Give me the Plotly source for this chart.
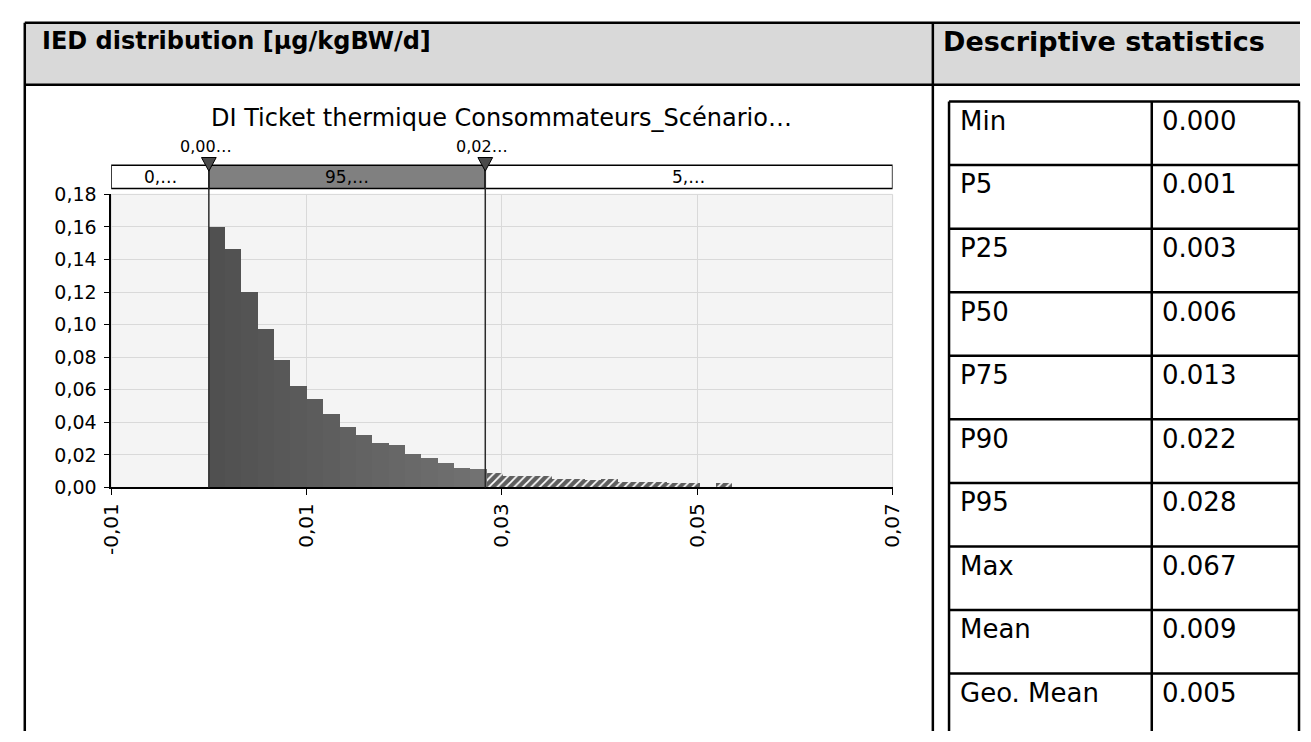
import plotly.graph_objects as go

# ---- data ----
bin_start = 0.0
bin_width = 0.001675
frequencies = [0.160, 0.146, 0.120, 0.097, 0.078, 0.062, 0.054, 0.045, 0.037, 0.032,
               0.027, 0.026, 0.020, 0.018, 0.015, 0.012, 0.011, 0.0089, 0.0070, 0.0070,
               0.0070, 0.0052, 0.0052, 0.0042, 0.0052, 0.0030, 0.0030, 0.0032, 0.0024, 0.0024,
               0.0, 0.0022, 0.0, 0.0, 0.0, 0.0, 0.0, 0.0, 0.0, 0.0]

delimiters = [0.0, 0.0283]
delimiter_labels = ["0,00…", "0,02…"]
region_labels = ["0,…", "95,…", "5,…"]

x_ticks = [-0.01, 0.01, 0.03, 0.05, 0.07]
x_tick_labels = ["-0,01", "0,01", "0,03", "0,05", "0,07"]
y_ticks = [0.0, 0.02, 0.04, 0.06, 0.08, 0.10, 0.12, 0.14, 0.16, 0.18]
y_tick_labels = ["0,00", "0,02", "0,04", "0,06", "0,08", "0,10", "0,12", "0,14", "0,16", "0,18"]

chart_title = "DI Ticket thermique Consommateurs_Scénario…"
left_header = "IED distribution [µg/kgBW/d]"
right_header = "Descriptive statistics"

stat_names = ["Min", "P5", "P25", "P50", "P75", "P90", "P95", "Max", "Mean", "Geo. Mean"]
stat_values = ["0.000", "0.001", "0.003", "0.006", "0.013", "0.022", "0.028", "0.067", "0.009", "0.005"]

# ---- page geometry (pixels) ----
W, H = 1311, 742
FONT = "DejaVu Sans"


def px(x):
    return x / W


def py(y):
    return 1 - y / H


x_range = [-0.01, 0.07]
plot_left, plot_right = 100, 896
plot_top, plot_bottom = 189, 491
band_top, band_bottom = 159, 183

centers = [bin_start + (i + 0.5) * bin_width for i in range(len(frequencies))]
inside = [c < delimiters[1] for c in centers]

n_in = sum(inside)
shades = []
for i in range(n_in):
    v = int(0x50 + (0x72 - 0x50) * i / max(n_in - 1, 1))
    shades.append("#%02x%02x%02x" % (v, v, v))

fig = go.Figure()

fig.add_trace(go.Bar(
    x=[c for c, k in zip(centers, inside) if k],
    y=[f for f, k in zip(frequencies, inside) if k],
    width=bin_width,
    marker=dict(color=shades, line=dict(width=0)),
    hoverinfo="skip",
))
fig.add_trace(go.Bar(
    x=[c for c, k in zip(centers, inside) if not k],
    y=[f for f, k in zip(frequencies, inside) if not k],
    width=bin_width,
    marker=dict(color="#5e5e5e", line=dict(width=0),
                pattern=dict(shape="/", fgcolor="#ffffff", bgcolor="#5e5e5e",
                             size=6, solidity=0.3, fillmode="replace")),
    hoverinfo="skip",
))

shapes = []
annotations = []

# header band and frame
shapes.append(dict(type="rect", xref="paper", yref="paper", x0=px(12), x1=1, y0=py(76), y1=py(12),
                   fillcolor="#d9d9d9", line=dict(width=0), layer="below"))
for (x0, y0, x1, y1) in [(12, 12, W, 12), (12, 76, W, 76), (12, 12, 12, H), (937, 12, 937, H)]:
    shapes.append(dict(type="line", xref="paper", yref="paper", x0=px(x0), x1=px(x1),
                       y0=py(y0), y1=py(y1), line=dict(color="black", width=2.5)))

annotations.append(dict(text="<b>%s</b>" % left_header, xref="paper", yref="paper", x=px(28), y=py(31),
                        xanchor="left", yanchor="middle", showarrow=False,
                        font=dict(family=FONT, size=24, color="black")))
annotations.append(dict(text="<b>%s</b>" % right_header, xref="paper", yref="paper", x=px(945), y=py(31),
                        xanchor="left", yanchor="middle", showarrow=False,
                        font=dict(family=FONT, size=27, color="black")))

# statistics table
t_left, t_mid, t_right, t_top, row_h = 953.5, 1160, 1310, 93.3, 65.5
for i, (name, val) in enumerate(zip(stat_names, stat_values)):
    top = t_top + i * row_h
    shapes.append(dict(type="line", xref="paper", yref="paper", x0=px(t_left), x1=px(t_right),
                       y0=py(top), y1=py(top), line=dict(color="black", width=2.5)))
    annotations.append(dict(text=name, xref="paper", yref="paper", x=px(963), y=py(top + 20),
                            xanchor="left", yanchor="middle", showarrow=False,
                            font=dict(family=FONT, size=26, color="black")))
    annotations.append(dict(text=val, xref="paper", yref="paper", x=px(1168), y=py(top + 20),
                            xanchor="left", yanchor="middle", showarrow=False,
                            font=dict(family=FONT, size=26, color="black")))
for xv in (t_left, t_mid, t_right):
    shapes.append(dict(type="line", xref="paper", yref="paper", x0=px(xv), x1=px(xv),
                       y0=py(t_top), y1=0, line=dict(color="black", width=2.5)))

# light border around plot area
shapes.append(dict(type="rect", xref="x domain", yref="y domain", x0=0, x1=1, y0=0, y1=1,
                   line=dict(color="#d6d6d6", width=1), layer="below"))

# delimiter band
seg_edges = [x_range[0]] + delimiters + [x_range[1]]
seg_fill = ["white", "#808080", "white"]
for i in range(3):
    shapes.append(dict(type="rect", xref="x", yref="paper", x0=seg_edges[i], x1=seg_edges[i + 1],
                       y0=py(band_bottom), y1=py(band_top), fillcolor=seg_fill[i],
                       line=dict(color="black", width=1.5)))
    annotations.append(dict(text=region_labels[i], xref="x", yref="paper",
                            x=(seg_edges[i] + seg_edges[i + 1]) / 2, y=py((band_top + band_bottom) / 2),
                            xanchor="center", yanchor="middle", showarrow=False,
                            font=dict(family=FONT, size=17, color="black")))

half = 7.5 / ((plot_right - plot_left) / (x_range[1] - x_range[0]))
for d, lab in zip(delimiters, delimiter_labels):
    shapes.append(dict(type="line", xref="x", yref="paper", x0=d, x1=d, y0=py(plot_bottom), y1=py(band_top),
                       line=dict(color="#2b2b2b", width=1.5)))
    shapes.append(dict(type="path", xref="x", yref="paper",
                       path="M %f,%f L %f,%f L %f,%f Z" % (d - half, py(151), d + half, py(151), d, py(165)),
                       fillcolor="#4a4a4a", line=dict(color="black", width=1)))
    annotations.append(dict(text=lab, xref="x", yref="paper", x=d - 0.0003, y=py(140),
                            xanchor="center", yanchor="middle", showarrow=False,
                            font=dict(family=FONT, size=16, color="black")))

annotations.append(dict(text=chart_title, xref="paper", yref="paper", x=px((plot_left + plot_right) / 2),
                        y=py(110), xanchor="center", yanchor="middle", showarrow=False,
                        font=dict(family=FONT, size=24, color="black")))

fig.update_layout(
    width=W, height=H, autosize=False,
    margin=dict(l=0, r=0, t=0, b=0),
    paper_bgcolor="white", plot_bgcolor="#f4f4f4",
    barmode="overlay", bargap=0, showlegend=False,
    font=dict(family=FONT, color="black"),
    shapes=shapes, annotations=annotations,
    xaxis=dict(domain=[px(plot_left), px(plot_right)], range=x_range,
               tickvals=x_ticks, ticktext=x_tick_labels, tickangle=-90,
               tickfont=dict(family=FONT, size=20, color="black"),
               showgrid=True, gridcolor="#d9d9d9", gridwidth=1, zeroline=False,
               showline=True, linecolor="black", linewidth=1.5,
               ticks="outside", ticklen=6, tickcolor="black"),
    yaxis=dict(domain=[py(plot_bottom), py(plot_top)], range=[0, 0.18],
               tickvals=y_ticks, ticktext=y_tick_labels,
               tickfont=dict(family=FONT, size=19, color="black"),
               showgrid=True, gridcolor="#d9d9d9", gridwidth=1, zeroline=False,
               showline=True, linecolor="black", linewidth=1.5,
               ticks="outside", ticklen=5, tickcolor="black", ticklabelstandoff=4),
)

fig.write_html("out.html", config={"displayModeBar": False},
               post_script="document.body.style.margin='0';")
